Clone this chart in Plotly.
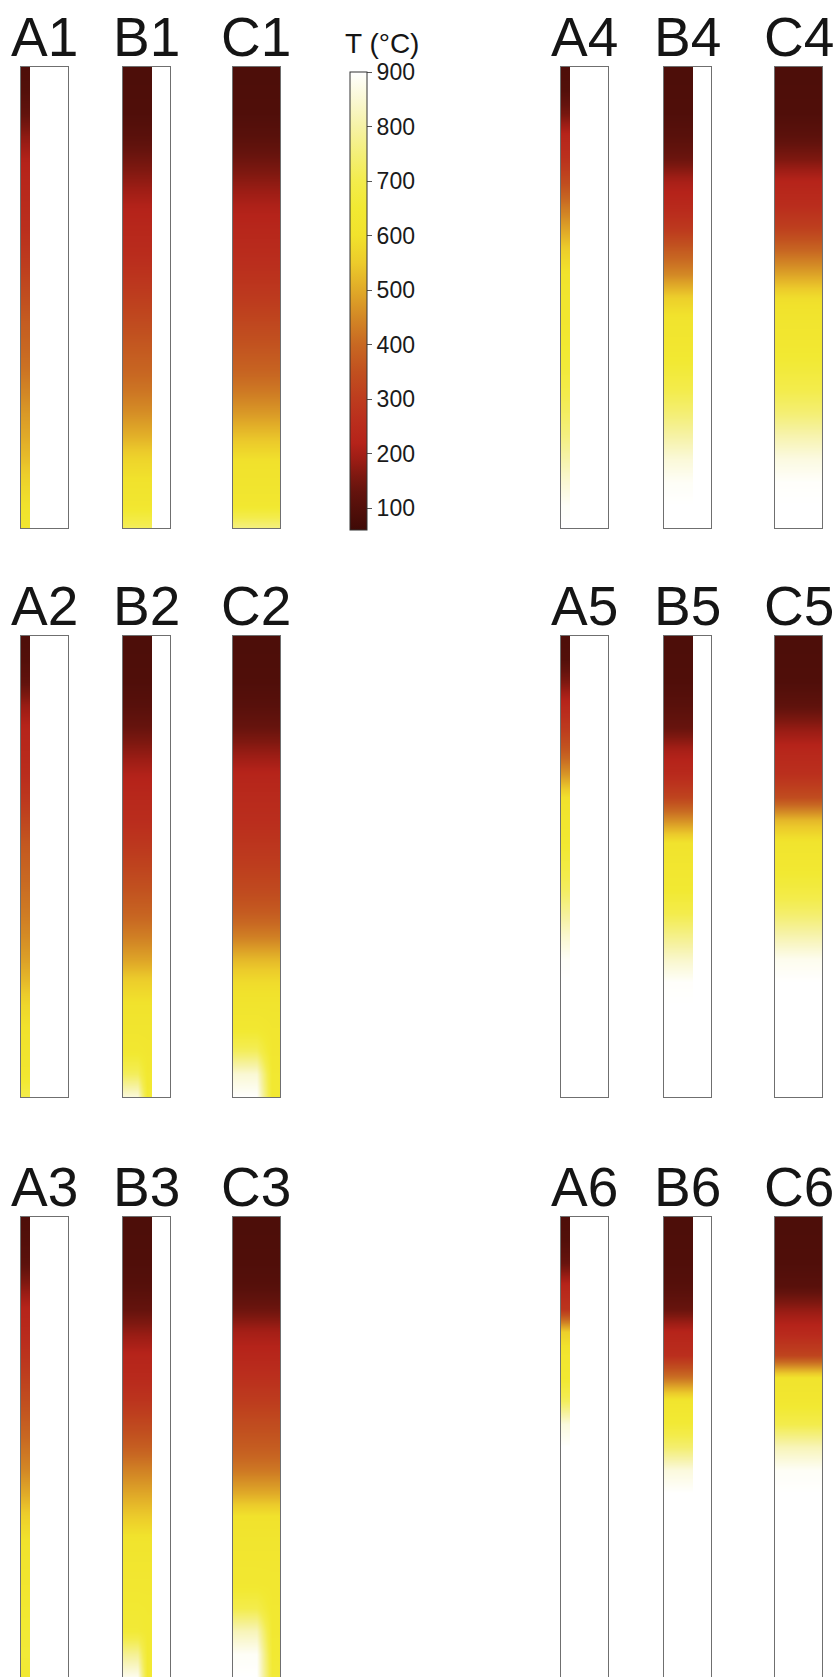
import plotly.graph_objects as go

# ---------------- data ----------------
# normalised depth below the top of each column (0 = top, 1 = bottom)
DEPTH = [0.00, 0.05, 0.10, 0.15, 0.20, 0.25, 0.30, 0.35, 0.40, 0.45, 0.50,
         0.55, 0.60, 0.65, 0.70, 0.75, 0.80, 0.85, 0.90, 0.95, 1.00]

PANELS = ["A1", "B1", "C1", "A2", "B2", "C2", "A3", "B3", "C3",
          "A4", "B4", "C4", "A5", "B5", "C5", "A6", "B6", "C6"]

# temperature (°C) profiles along the column (left part of the filled zone)
T_A1 = [90, 100, 125, 175, 215, 235, 250, 262, 285, 315, 345, 375, 395, 415, 445, 475, 500, 530, 570, 600, 630]
T_B1 = [88, 90, 94, 112, 145, 180, 215, 235, 250, 275, 305, 335, 365, 390, 420, 460, 510, 570, 605, 630, 720]
T_C1 = [88, 90, 94, 110, 140, 175, 210, 232, 250, 270, 295, 325, 355, 385, 425, 475, 535, 595, 615, 635, 760]
T_A2 = [90, 100, 125, 185, 225, 240, 255, 285, 325, 365, 390, 410, 430, 455, 485, 525, 575, 600, 615, 630, 700]
T_B2 = [88, 90, 94, 108, 135, 175, 215, 238, 255, 285, 320, 355, 390, 435, 490, 560, 605, 620, 640, 720, 860]
T_C2 = [88, 90, 94, 108, 135, 180, 225, 245, 258, 280, 305, 335, 375, 435, 520, 585, 615, 640, 720, 850, 900]
T_A3 = [90, 100, 115, 170, 225, 245, 275, 310, 345, 380, 415, 450, 500, 560, 600, 615, 625, 640, 655, 660, 650]
T_B3 = [88, 90, 94, 105, 130, 180, 225, 245, 280, 330, 380, 440, 495, 550, 610, 625, 635, 650, 660, 780, 880]
T_C3 = [88, 90, 94, 105, 140, 200, 232, 265, 300, 340, 375, 425, 500, 600, 620, 630, 640, 700, 820, 890, 900]
T_A4 = [90, 100, 150, 230, 270, 340, 420, 490, 560, 605, 620, 630, 645, 665, 695, 725, 760, 805, 850, 890, 900]
T_B4 = [88, 90, 94, 110, 140, 205, 240, 290, 375, 450, 560, 615, 630, 660, 700, 745, 800, 855, 890, 900, 900]
T_C4 = [88, 90, 94, 115, 160, 225, 255, 310, 400, 490, 590, 620, 635, 665, 700, 745, 810, 865, 895, 900, 900]
T_A5 = [90, 100, 160, 235, 295, 370, 470, 595, 625, 645, 685, 725, 785, 845, 890, 900, 900, 900, 900, 900, 900]
T_B5 = [88, 90, 94, 110, 135, 205, 245, 320, 460, 605, 630, 650, 700, 770, 840, 895, 900, 900, 900, 900, 900]
T_C5 = [88, 90, 94, 120, 180, 235, 265, 340, 520, 615, 640, 680, 735, 810, 880, 900, 900, 900, 900, 900, 900]
T_A6 = [90, 100, 135, 230, 280, 560, 625, 645, 720, 860, 900, 900, 900, 900, 900, 900, 900, 900, 900, 900, 900]
T_B6 = [88, 90, 94, 105, 135, 225, 260, 420, 620, 660, 740, 860, 900, 900, 900, 900, 900, 900, 900, 900, 900]
T_C6 = [88, 90, 94, 110, 180, 240, 320, 610, 635, 700, 820, 890, 900, 900, 900, 900, 900, 900, 900, 900, 900]

# right-edge profiles where the bottom is not laterally uniform
T_B2_RIGHT = [88, 90, 94, 108, 135, 175, 215, 238, 255, 285, 320, 355, 390, 435, 490, 560, 605, 620, 630, 640, 650]
T_C2_RIGHT = [88, 90, 94, 108, 135, 180, 225, 245, 258, 280, 305, 335, 375, 435, 520, 585, 615, 625, 630, 640, 640]
T_B3_RIGHT = [88, 90, 94, 105, 130, 180, 225, 245, 280, 330, 380, 440, 495, 550, 610, 625, 635, 645, 650, 650, 650]
T_C3_RIGHT = [88, 90, 94, 105, 140, 200, 232, 265, 300, 340, 375, 425, 500, 600, 620, 630, 635, 640, 645, 650, 660]

TICK_VALUES = [100, 200, 300, 400, 500, 600, 700, 800, 900]
T_MIN, T_MAX = 60, 900
CBAR_TITLE = "T (°C)"

LEFT_PROFILES = {"A1": T_A1, "B1": T_B1, "C1": T_C1, "A2": T_A2, "B2": T_B2, "C2": T_C2,
                 "A3": T_A3, "B3": T_B3, "C3": T_C3, "A4": T_A4, "B4": T_B4, "C4": T_C4,
                 "A5": T_A5, "B5": T_B5, "C5": T_C5, "A6": T_A6, "B6": T_B6, "C6": T_C6}
RIGHT_PROFILES = {"B2": T_B2_RIGHT, "C2": T_C2_RIGHT, "B3": T_B3_RIGHT, "C3": T_C3_RIGHT}

# ---------------- layout / style ----------------
W, H = 837, 1677
COL_PX = {"left": {"A": (21, 68), "B": (123, 170), "C": (233, 280)},
          "right": {"A": (561, 608), "B": (664, 711), "C": (775, 822)}}
ROW_PX = {"1": (67, 528), "2": (636, 1097), "3": (1217, 1677)}
FILL_FRAC = {"A": 0.2, "B": 0.61, "C": 1.0}

COLORSCALE_T = [60, 100, 130, 160, 190, 220, 260, 300, 350, 400, 450, 500, 550, 600, 650, 700, 750, 800, 850, 900]
COLORSCALE_C = ["#3e0a06", "#530f0a", "#64130d", "#7e1810", "#9d1d15", "#b5231a", "#ba2e1d", "#bd3c1e",
                "#c1501f", "#c86822", "#d38825", "#e0aa28", "#eccb2b", "#f1e22c", "#f2e932",
                "#f3ec4c", "#f4ef78", "#f6f2a6", "#faf8d4", "#ffffff"]
colorscale = [[(t - T_MIN) / (T_MAX - T_MIN), c] for t, c in zip(COLORSCALE_T, COLORSCALE_C)]

FONT = "Liberation Sans, Arial, Helvetica, sans-serif"
BORDER = "#6f6f6f"

fig = go.Figure()
layout_axes = {}
annotations = []

for i, name in enumerate(PANELS, start=1):
    kind, row = name[0], name[1]
    side = "left" if int(row) <= 3 else "right"
    row_key = str((int(row) - 1) % 3 + 1)
    x0, x1 = COL_PX[side][kind]
    y0, y1 = ROW_PX[row_key]
    fw = FILL_FRAC[kind]
    left = LEFT_PROFILES[name]
    right = RIGHT_PROFILES.get(name, left)
    z = [[l, l, r] for l, r in zip(left, right)]

    xa = "x" if i == 1 else f"x{i}"
    ya = "y" if i == 1 else f"y{i}"
    fig.add_trace(go.Heatmap(
        z=z, x=[0, fw / 3, 2 * fw / 3, fw], y=DEPTH, xaxis=xa, yaxis=ya,
        coloraxis="coloraxis", zsmooth="best", hoverinfo="skip", name=name,
    ))
    axis_common = dict(showgrid=False, zeroline=False, showticklabels=False, ticks="",
                       showline=True, linecolor=BORDER, linewidth=1, mirror=True,
                       fixedrange=True)
    layout_axes["xaxis" if i == 1 else f"xaxis{i}"] = dict(
        domain=[x0 / W, x1 / W], range=[0, 1], anchor=ya, **axis_common)
    layout_axes["yaxis" if i == 1 else f"yaxis{i}"] = dict(
        domain=[max(0, 1 - y1 / H), 1 - y0 / H], range=[1, 0], anchor=xa, **axis_common)
    annotations.append(dict(
        text=name, xref=f"{xa} domain", yref=f"{ya} domain", x=0.5, y=1,
        xanchor="center", yanchor="bottom", yshift=-3, showarrow=False,
        font=dict(family=FONT, size=55, color="#151515")))

annotations.append(dict(
    text=CBAR_TITLE, xref="paper", yref="paper", x=343 / W, y=1 - 26 / H,
    xanchor="left", yanchor="top", showarrow=False,
    font=dict(family=FONT, size=28, color="#151515")))

fig.update_layout(
    width=W, height=H, margin=dict(l=0, r=0, t=0, b=0),
    paper_bgcolor="white", plot_bgcolor="white", showlegend=False,
    annotations=annotations,
    coloraxis=dict(
        colorscale=colorscale, cmin=T_MIN, cmax=T_MAX,
        colorbar=dict(
            x=350 / W, xanchor="left", xpad=0,
            y=1 - 72 / H, yanchor="top", ypad=0,
            len=458, lenmode="pixels", thickness=17, thicknessmode="pixels",
            outlinewidth=1, outlinecolor="#333333",
            tickmode="array", tickvals=TICK_VALUES,
            ticks="outside", ticklen=5, tickwidth=1, tickcolor="#555555",
            tickfont=dict(family=FONT, size=23, color="#1a1a1a"),
        ),
    ),
    **layout_axes,
)

fig.write_html(
    "out.html",
    config={"displayModeBar": False},
    post_script="document.body.style.margin='0px';document.body.style.overflow='hidden';",
)
